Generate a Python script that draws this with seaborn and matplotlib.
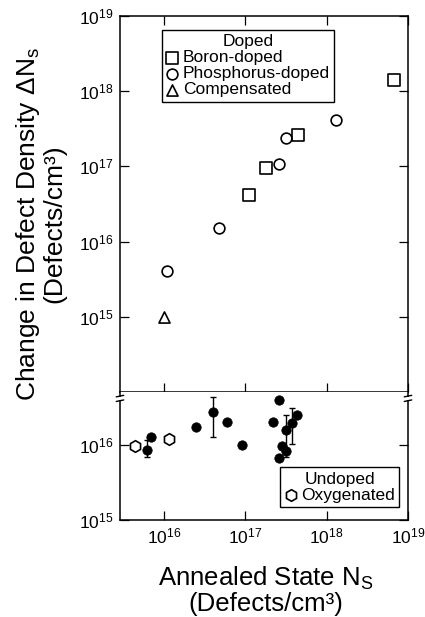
import numpy as np
import pandas as pd
import matplotlib
matplotlib.use("Agg")
import matplotlib.pyplot as plt
import seaborn as sns
from matplotlib.ticker import FixedLocator, NullLocator, LogFormatterSciNotation

# ---------------- data ----------------
boron_x = [1.1e17, 1.8e17, 4.5e17, 6.8e18]
boron_y = [4.2e16, 9.4e16, 2.6e17, 1.4e18]

phos_x = [1.1e16, 4.7e16, 2.6e17, 3.2e17, 1.3e18]
phos_y = [4.1e15, 1.5e16, 1.06e17, 2.4e17, 4.1e17]

comp_x = [1.0e16]
comp_y = [1.0e15]

oxy_x = [4.4e15, 1.15e16]
oxy_y = [9.6e15, 1.2e16]

undoped_x = [6.2e15, 6.9e15, 2.5e16, 4.0e16, 5.9e16, 9.1e16, 2.2e17,
             2.6e17, 4.3e17, 3.7e17, 3.2e17, 2.8e17, 3.2e17, 2.6e17]
undoped_y = [8.6e15, 1.28e16, 1.74e16, 2.75e16, 2.0e16, 1.0e16, 2.0e16,
             4.0e16, 2.5e16, 1.96e16, 1.58e16, 9.7e15, 8.3e15, 6.7e15]

# error bars on some undoped points (index into undoped arrays)
err_idx = [0, 3, 9, 10]
err_lo = [6.9e15, 1.28e16, 1.03e16, 6.9e15]
err_hi = [1.17e16, 4.4e16, 3.1e16, 2.5e16]

x_ticks = [1e16, 1e17, 1e18, 1e19]
top_y_ticks = [1e15, 1e16, 1e17, 1e18, 1e19]
bot_y_ticks = [1e15, 1e16]

xlim = (10 ** 15.46, 1e19)
top_ylim = (1e14, 1e19)
bot_ylim = (1e15, 10 ** 16.707)

# ---------------- style ----------------
sns.set_style("ticks")
plt.rcParams["font.family"] = ["Liberation Sans", "DejaVu Sans"]
plt.rcParams["mathtext.fontset"] = "custom"
plt.rcParams["mathtext.rm"] = "Liberation Sans"
plt.rcParams["mathtext.it"] = "Liberation Sans:italic"
plt.rcParams["mathtext.bf"] = "Liberation Sans:bold"
plt.rcParams["axes.linewidth"] = 1.1
plt.rcParams["text.color"] = "black"
plt.rcParams["axes.labelcolor"] = "black"
plt.rcParams["xtick.color"] = "black"
plt.rcParams["ytick.color"] = "black"

W, H = 425, 617
fig = plt.figure(figsize=(W / 100, H / 100), dpi=100)
fig.patch.set_facecolor("white")

L, R = 120, 408
ax1 = fig.add_axes([L / W, 1 - 392 / H, (R - L) / W, (392 - 16) / H])
ax2 = fig.add_axes([L / W, 1 - 520 / H, (R - L) / W, (520 - 392) / H])

lw = 1.2
# top panel
sns.scatterplot(x=boron_x, y=boron_y, ax=ax1, marker="s", s=64, color="white",
                edgecolor="black", linewidth=lw, label="Boron-doped", zorder=3)
sns.scatterplot(x=phos_x, y=phos_y, ax=ax1, marker="o", s=60, color="white",
                edgecolor="black", linewidth=lw, label="Phosphorus-doped", zorder=3)
sns.scatterplot(x=comp_x, y=comp_y, ax=ax1, marker="^", s=64, color="white",
                edgecolor="black", linewidth=lw, label="Compensated", zorder=3)

# bottom panel
ex = [undoped_x[i] for i in err_idx]
ey = [undoped_y[i] for i in err_idx]
yerr = [np.array(ey) - np.array(err_lo), np.array(err_hi) - np.array(ey)]
ax2.errorbar(ex, ey, yerr=yerr, fmt="none", ecolor="black", elinewidth=1.0,
             capsize=2.5, capthick=1.0, zorder=2)
sns.scatterplot(x=undoped_x, y=undoped_y, ax=ax2, marker="o", s=46, color="black",
                edgecolor="black", linewidth=0.5, zorder=3)
sns.scatterplot(x=oxy_x, y=oxy_y, ax=ax2, marker="h", s=70, color="white",
                edgecolor="black", linewidth=lw, label="Oxygenated", zorder=3)

for ax in (ax1, ax2):
    ax.set_xscale("log")
    ax.set_yscale("log")
    ax.set_xlim(*xlim)
    ax.xaxis.set_major_locator(FixedLocator(x_ticks))
    ax.xaxis.set_minor_locator(NullLocator())
    ax.yaxis.set_minor_locator(NullLocator())
    ax.tick_params(which="major", direction="in", length=6.5, width=0.9,
                   labelsize=12.5, pad=5, colors="black")
    ax.set_xlabel("")
    ax.set_ylabel("")
    for sp in ax.spines.values():
        sp.set_visible(True)
        sp.set_linewidth(1.1)
        sp.set_color("black")

ax1.set_ylim(*top_ylim)
ax1.yaxis.set_major_locator(FixedLocator(top_y_ticks))
ax1.yaxis.set_major_formatter(LogFormatterSciNotation())
ax1.tick_params(top=True, bottom=True, left=True, right=True,
                labelbottom=False, labeltop=False)

ax2.set_ylim(*bot_ylim)
ax2.yaxis.set_major_locator(FixedLocator(bot_y_ticks))
ax2.yaxis.set_major_formatter(LogFormatterSciNotation())
ax2.xaxis.set_major_formatter(LogFormatterSciNotation())
ax2.spines["top"].set_visible(False)
ax2.tick_params(top=False, bottom=True, left=True, right=True, labelbottom=True)

# legends
leg_kw = dict(fontsize=12.5, title_fontsize=12.5, frameon=True, fancybox=False,
              edgecolor="black", framealpha=1, borderpad=0.25, labelspacing=0.05,
              handlelength=0.7, handletextpad=0.25, borderaxespad=0)
lg1 = ax1.legend(title="Doped", loc="upper left", bbox_to_anchor=(0.146, 0.963), **leg_kw)
lg1.get_frame().set_linewidth(1.0)
lg2 = ax2.legend(title="Undoped", loc="lower right", bbox_to_anchor=(0.969, 0.102), **leg_kw)
lg2.get_frame().set_linewidth(1.0)
for lg in (lg1, lg2):
    for t in lg.get_texts():
        t.set_color("black")
    lg.get_title().set_color("black")

# axis break marks on the side spines
for xa in (0.0, 1.0):
    ax2.plot([xa, xa], [0.938, 0.962], transform=ax2.transAxes, color="white",
             lw=3, solid_capstyle="butt", clip_on=False, zorder=10)
    for yb in (0.968, 0.932):
        ax2.plot([xa - 0.013, xa + 0.013], [yb - 0.006, yb + 0.006],
                 transform=ax2.transAxes, color="black", lw=1.0,
                 clip_on=False, zorder=11)

# axis titles
fig.text(0.094, 1 - 224 / H, "Change in Defect Density \u0394N$_\\mathrm{s}$\n(Defects/cm\u00b3)",
         rotation=90, ha="center", va="center", fontsize=19, multialignment="center",
         linespacing=1.0)
fig.text(266 / W, 1 - 590 / H, "Annealed State N$_\\mathrm{S}$\n(Defects/cm\u00b3)",
         ha="center", va="center", fontsize=18.5, multialignment="center",
         linespacing=1.0)

fig.savefig("out.png", dpi=100, facecolor="white")
